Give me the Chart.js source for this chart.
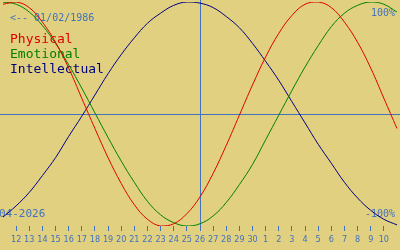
<!DOCTYPE html>
<html>
<head>
<meta charset="UTF-8">
<title>Biorhythm</title>
<script src="https://cdn.jsdelivr.net/npm/chart.js"></script>
<style>
  html, body { margin: 0; padding: 0; background: #e0d080; }
  #wrap { width: 400px; height: 250px; position: relative; }
</style>
</head>
<body>
<div id="wrap"><canvas id="bio"></canvas></div>
<script>
  // days from 11 April to 11 May (first and last are the plot edges)
  const days = ['11','12','13','14','15','16','17','18','19','20','21','22','23','24','25','26','27','28','29','30',
                '1','2','3','4','5','6','7','8','9','10','11'];
  const physical = [98, 100, 95, 82, 64, 41, 14, -13, -39, -62, -81, -94, -100, -98, -89, -74, -53, -28, -1, 26,
                    51, 72, 88, 98, 100, 95, 82, 64, 41, 14, -13];
  const emotional = [100, 98, 91, 79, 63, 44, 23, 1, -21, -42, -61, -78, -90, -97, -100, -98, -91, -79, -63, -45,
                     -23, -1, 21, 42, 61, 78, 90, 97, 100, 98, 91];
  const intellectual = [-92, -82, -70, -55, -39, -20, -2, 17, 36, 53, 68, 81, 90, 97, 100, 99, 95, 87, 77, 63,
                        47, 30, 11, -8, -27, -44, -61, -75, -86, -94, -99];
  const todayIndex = 15;   // 26th
  const birthText = '<-- 01/02/1986';
  const monthText = '04-2026';

  const ink = '#4272bd';
  const mono = '"DejaVu Sans Mono", "Liberation Mono", monospace';

  const overlay = {
    id: 'overlay',
    beforeDatasetsDraw(chart) {
      const ctx = chart.ctx, x = chart.scales.x, y = chart.scales.y, a = chart.chartArea;
      ctx.save();
      // zero line and today line
      ctx.strokeStyle = ink;
      ctx.lineWidth = 1;
      const y0 = Math.round(y.getPixelForValue(0)) + 0.5;
      const xt = Math.round(x.getPixelForValue(todayIndex)) + 0.5;
      ctx.beginPath();
      ctx.moveTo(0, y0); ctx.lineTo(chart.width, y0);
      ctx.moveTo(xt, 0); ctx.lineTo(xt, a.bottom + 4);
      ctx.stroke();

      // corner texts
      ctx.fillStyle = ink;
      ctx.textBaseline = 'alphabetic';
      ctx.font = '10px ' + mono;
      ctx.textAlign = 'left';
      ctx.fillText(birthText, 10, 21);
      ctx.textAlign = 'right';
      ctx.fillText(y.max + '%', 395, 16);
      ctx.fillText(y.min + '%', 395, 217);
      ctx.textAlign = 'left';
      ctx.font = '11px ' + mono;
      ctx.fillText(monthText, -1, 217);

      // legend
      ctx.font = '13px ' + mono;
      chart.data.datasets.forEach((ds, i) => {
        ctx.fillStyle = ds.borderColor;
        ctx.fillText(ds.label, 10, 43 + i * 15);
      });
      ctx.restore();
    }
  };

  new Chart(document.getElementById('bio'), {
    type: 'line',
    plugins: [overlay],
    data: {
      labels: days,
      datasets: [
        { label: 'Physical', data: physical, borderColor: '#e00000' },
        { label: 'Emotional', data: emotional, borderColor: '#008000' },
        { label: 'Intellectual', data: intellectual, borderColor: '#000080' }
      ]
    },
    options: {
      responsive: true,
      maintainAspectRatio: false,
      animation: false,
      layout: { padding: { top: 2, left: 0, right: 0, bottom: 0 } },
      elements: {
        point: { radius: 0 },
        line: { borderWidth: 1, tension: 0.4, fill: false }
      },
      scales: {
        x: {
          type: 'category',
          offset: false,
          afterFit: s => { s.height = 24; },
          border: { display: false },
          grid: {
            drawOnChartArea: false,
            drawTicks: true,
            tickLength: 5,
            tickColor: c => (c.index === 0 || c.index === days.length - 1) ? 'rgba(0,0,0,0)' : ink
          },
          ticks: {
            autoSkip: false,
            maxRotation: 0,
            padding: 3,
            color: ink,
            font: { family: '"Liberation Sans Narrow", "DejaVu Sans Condensed", "Liberation Sans", sans-serif', size: 9 },
            callback: (v, i) => (i === 0 || i === days.length - 1) ? '' : days[i]
          }
        },
        y: { display: false, min: -100, max: 100 }
      },
      plugins: { legend: { display: false }, tooltip: { enabled: false } }
    }
  });
</script>
</body>
</html>
